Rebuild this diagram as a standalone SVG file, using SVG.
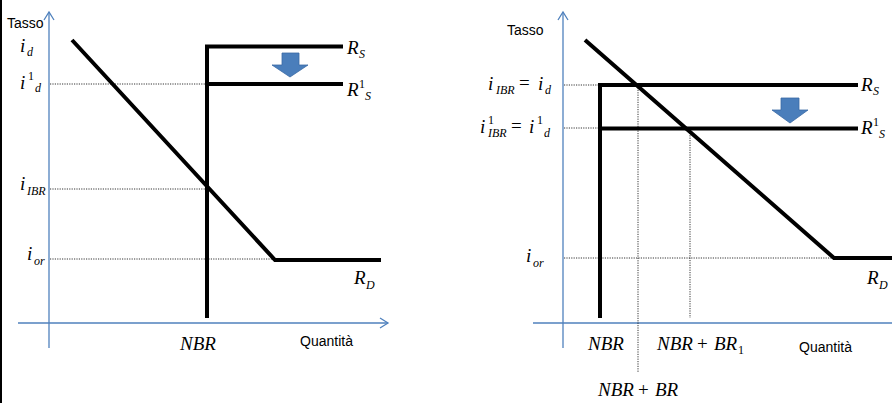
<svg xmlns="http://www.w3.org/2000/svg" width="892" height="403" viewBox="0 0 892 403">
<style>
.ax{stroke:#4f81bd;stroke-width:1.3;fill:none}
.thick{stroke:#000;stroke-width:4;fill:none;stroke-linecap:butt}
.dot{stroke:#000;stroke-width:0.8;stroke-dasharray:1.2 1.2;fill:none}
.m{font-family:"Liberation Serif",serif;font-style:italic;font-size:19px;fill:#000}
.s{font-family:"Liberation Serif",serif;font-style:italic;font-size:12px;fill:#000}
.n{font-family:"Liberation Serif",serif;font-size:12px;fill:#000}
.op{font-family:"Liberation Serif",serif;font-size:19px;fill:#000}
.t{font-family:"Liberation Sans",Arial,sans-serif;font-size:14px;fill:#000}
.arrow{fill:#4a7ebb;stroke:#3a6aa5;stroke-width:0.8}
</style>
<rect x="0" y="0" width="892" height="403" fill="#fff"/>
<rect x="0" y="0" width="2" height="403" fill="#000"/>

<g id="left-axes">
<line class="ax" x1="49" y1="12" x2="49" y2="348"/>
<polyline class="ax" points="44,20 49,12 54,20"/>
<line class="ax" x1="18" y1="323" x2="388" y2="323"/>
<polyline class="ax" points="380,318 388,323 380,328"/>
</g>

<g id="left-guides">
<line class="dot" x1="50" y1="84" x2="205" y2="84"/>
<line class="dot" x1="50" y1="189" x2="207" y2="189"/>
<line class="dot" x1="50" y1="259" x2="275" y2="259"/>
</g>

<g id="left-curves">
<g id="left-RD"><polyline class="thick" points="72,40 275,260 381,260"/></g>
<g id="left-RS"><polyline class="thick" points="207,318 207,46.5 343,46.5"/></g>
<g id="left-RS1"><line class="thick" x1="205" y1="84" x2="343" y2="84"/></g>
<g id="left-arrow"><polygon class="arrow" points="282,53 299,53 299,65 308,65 290,77 272,65 282,65"/></g>
</g>

<g id="left-labels">
<text class="t" x="7" y="28">Tasso</text>
<text class="m" x="20" y="52">i</text><text class="s" x="27" y="56">d</text>
<text class="m" x="20" y="89">i</text><text class="n" x="28" y="80">1</text><text class="s" x="35" y="92">d</text>
<text class="m" x="20" y="190">i</text><text class="s" x="27" y="195">IBR</text>
<text class="m" x="27" y="260">i</text><text class="s" x="34" y="265">or</text>
<text class="m" x="347" y="54">R</text><text class="s" x="359" y="58">S</text>
<text class="m" x="347" y="96">R</text><text class="n" x="359" y="88">1</text><text class="s" x="365" y="100">S</text>
<text class="m" x="354" y="284">R</text><text class="s" x="366" y="289">D</text>
<text class="m" x="180" y="350">NBR</text>
<text class="t" x="300" y="346">Quantità</text>
</g>

<g id="right-axes">
<line class="ax" x1="563" y1="12" x2="563" y2="348"/>
<polyline class="ax" points="558,20 563,12 568,20"/>
<line class="ax" x1="533" y1="323" x2="892" y2="323"/>
</g>

<g id="right-guides">
<line class="dot" x1="564" y1="85" x2="600" y2="85"/>
<line class="dot" x1="564" y1="128" x2="600" y2="128"/>
<line class="dot" x1="564" y1="258" x2="833" y2="258"/>
<line class="dot" x1="638" y1="85" x2="638" y2="372"/>
<line class="dot" x1="690" y1="128" x2="690" y2="318"/>
</g>

<g id="right-curves">
<g id="right-RD"><polyline class="thick" points="585,40 834,258 892,258"/></g>
<g id="right-RS"><polyline class="thick" points="600,318 600,85 858,85"/></g>
<g id="right-RS1"><line class="thick" x1="600" y1="128.5" x2="858" y2="128.5"/></g>
<g id="right-arrow"><polygon class="arrow" points="781,98 799,98 799,110 808,110 790,123 772,110 781,110"/></g>
</g>

<g id="right-labels">
<text class="t" x="507" y="35">Tasso</text>
<text class="m" x="488" y="90">i</text><text class="s" x="496" y="94">IBR</text>
<text class="op" x="519" y="89">=</text>
<text class="m" x="538" y="90">i</text><text class="s" x="545" y="94">d</text>
<text class="m" x="480" y="133">i</text><text class="n" x="488" y="124">1</text><text class="s" x="488" y="137">IBR</text>
<text class="op" x="511" y="132">=</text>
<text class="m" x="529" y="133">i</text><text class="n" x="537" y="124">1</text><text class="s" x="544" y="137">d</text>
<text class="m" x="861" y="91">R</text><text class="s" x="873" y="95">S</text>
<text class="m" x="861" y="134">R</text><text class="n" x="873" y="126">1</text><text class="s" x="879" y="138">S</text>
<text class="m" x="526" y="262">i</text><text class="s" x="533" y="267">or</text>
<text class="m" x="867" y="284">R</text><text class="s" x="879" y="289">D</text>
<text class="m" x="588" y="350">NBR</text>
<text class="m" x="657" y="350">NBR</text><text class="op" x="697" y="350">+</text><text class="m" x="714" y="350">BR</text><text class="n" x="738" y="354">1</text>
<text class="t" x="799" y="352">Quantità</text>
<text class="m" x="598" y="396">NBR</text><text class="op" x="638" y="396">+</text><text class="m" x="655" y="396">BR</text>
</g>
</svg>
